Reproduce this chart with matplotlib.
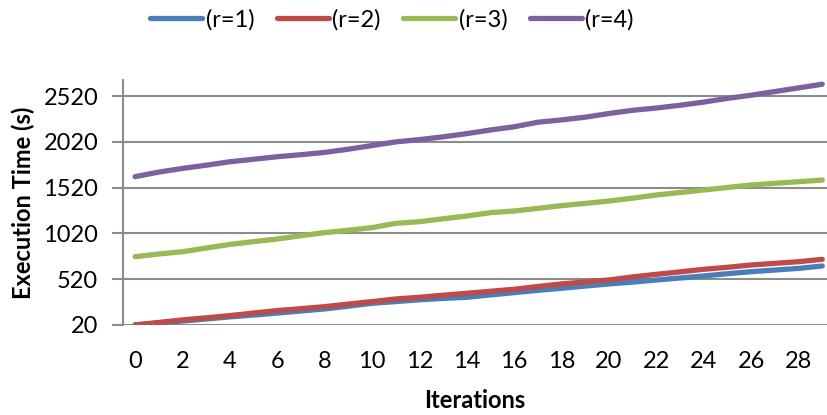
import matplotlib
matplotlib.use('Agg')
import matplotlib.pyplot as plt
import numpy as np

# data
iterations = list(range(30))
r1 = [20, 42, 63, 85, 108, 128, 150, 172, 195, 225, 257, 275, 295, 310, 322, 348, 373, 398, 421, 445,
      468, 488, 511, 533, 555, 580, 602, 620, 638, 664]
r2 = [20, 47, 75, 98, 122, 150, 177, 198, 220, 248, 275, 304, 322, 345, 366, 388, 410, 440, 468, 490,
      511, 545, 573, 600, 628, 650, 675, 693, 711, 737]
r3 = [766, 795, 820, 860, 900, 930, 959, 995, 1028, 1055, 1083, 1130, 1148, 1180, 1210, 1247, 1265, 1294,
      1323, 1348, 1374, 1405, 1440, 1467, 1494, 1522, 1549, 1567, 1585, 1603]
r4 = [1640, 1690, 1730, 1765, 1803, 1830, 1858, 1880, 1905, 1940, 1980, 2020, 2045, 2075, 2110, 2150,
      2185, 2235, 2260, 2290, 2330, 2365, 2390, 2420, 2455, 2495, 2530, 2570, 2610, 2650]
series = [r1, r2, r3, r4]
labels = ['(r=1)', '(r=2)', '(r=3)', '(r=4)']
colors = ['#4A7EBB', '#BE4B48', '#98B954', '#7D60A0']
yticks = [20, 520, 1020, 1520, 2020, 2520]
xticks = list(range(0, 29, 2))

plt.rcParams['font.family'] = ['Lato', 'DejaVu Sans']

fig = plt.figure(figsize=(8.27, 4.15), dpi=100)
ax = fig.add_axes([0.149, 0.217, 0.851, 0.590])

for ys, lab, c in zip(series, labels, colors):
    ax.plot(iterations, ys, color=c, lw=3.8, label=lab, solid_capstyle='round', solid_joinstyle='round')

ax.set_xlim(-0.5, 29.2)
ax.set_ylim(20, 2695)
ax.set_yticks(yticks)
ax.set_xticks(xticks)
ax.grid(axis='y', color='#8c8c8c', lw=1.5)
ax.set_axisbelow(True)
for s in ['top', 'right', 'bottom']:
    ax.spines[s].set_visible(False)
ax.spines['left'].set_color('#8c8c8c')
ax.spines['left'].set_linewidth(1.5)
ax.tick_params(axis='y', length=8, width=1.5, color='#8c8c8c', labelsize=17, pad=10)
ax.tick_params(axis='x', length=0, labelsize=17, pad=19)

ax.set_xlabel('Iterations', fontsize=17, fontweight='bold', labelpad=12)
ax.set_ylabel('Execution Time (s)', fontsize=17, fontweight='bold', labelpad=6)

fig.legend(loc='center', bbox_to_anchor=(0.474, 0.952), ncol=4, frameon=False, fontsize=17,
           handlelength=2.2, handletextpad=0.15, columnspacing=0.95)

fig.savefig('out.png', dpi=100)
